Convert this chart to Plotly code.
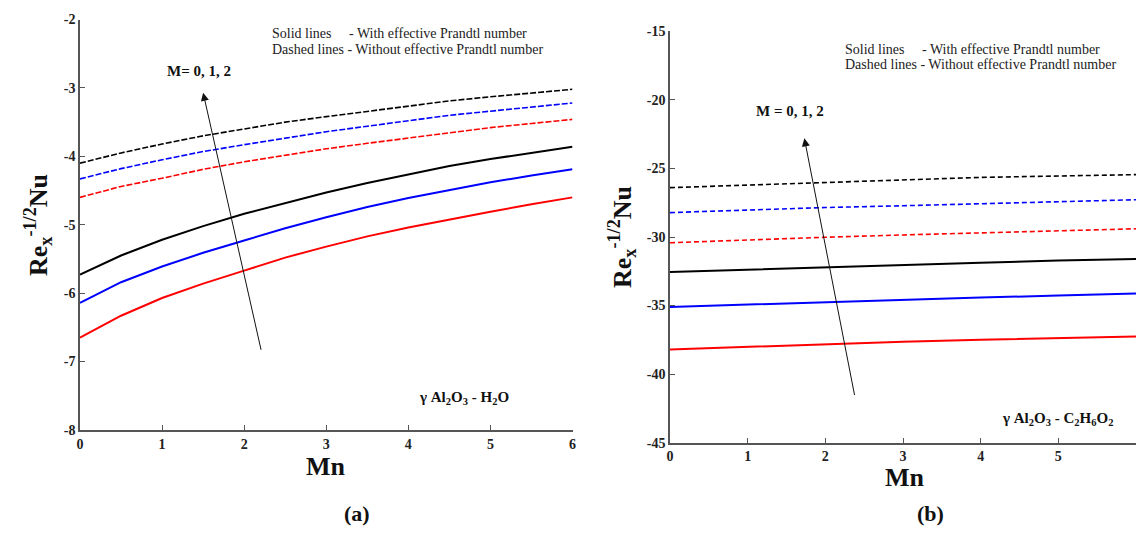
import plotly.graph_objects as go

# ---------------- data ----------------
mn_a = [0, 0.5, 1, 1.5, 2, 2.5, 3, 3.5, 4, 4.5, 5, 5.5, 6]
a_solid_m0 = [-5.73, -5.45, -5.22, -5.02, -4.84, -4.68, -4.53, -4.39, -4.26, -4.14, -4.04, -3.95, -3.86]
a_solid_m1 = [-6.14, -5.84, -5.61, -5.41, -5.23, -5.05, -4.89, -4.74, -4.61, -4.49, -4.38, -4.28, -4.19]
a_solid_m2 = [-6.65, -6.33, -6.07, -5.86, -5.67, -5.48, -5.32, -5.17, -5.04, -4.92, -4.81, -4.70, -4.60]
a_dash_m0 = [-4.10, -3.95, -3.82, -3.70, -3.60, -3.50, -3.42, -3.34, -3.26, -3.19, -3.13, -3.07, -3.02]
a_dash_m1 = [-4.33, -4.18, -4.05, -3.93, -3.83, -3.73, -3.64, -3.56, -3.48, -3.40, -3.34, -3.28, -3.22]
a_dash_m2 = [-4.60, -4.44, -4.32, -4.19, -4.08, -3.98, -3.89, -3.81, -3.73, -3.65, -3.58, -3.52, -3.46]

mn_b = [0, 1, 2, 3, 4, 5, 6]
b_dash_m0 = [-26.40, -26.20, -26.03, -25.85, -25.65, -25.55, -25.45]
b_dash_m1 = [-28.22, -28.02, -27.85, -27.72, -27.58, -27.42, -27.28]
b_dash_m2 = [-30.42, -30.20, -30.02, -29.85, -29.70, -29.55, -29.40]
b_solid_m0 = [-32.55, -32.37, -32.20, -32.03, -31.87, -31.72, -31.60]
b_solid_m1 = [-35.10, -34.92, -34.75, -34.58, -34.42, -34.27, -34.12]
b_solid_m2 = [-38.20, -38.00, -37.82, -37.65, -37.50, -37.37, -37.26]

x_ticks = [0, 1, 2, 3, 4, 5, 6]
a_yticks = [-8, -7, -6, -5, -4, -3, -2]
b_yticks = [-45, -40, -35, -30, -25, -20, -15]

FONT = "Liberation Serif"
OFF = 8              # default page body margin
W, H = 1144 - 2 * OFF, 535 - 2 * OFF

fig = go.Figure()

def add(x, y, color, dash, xa, ya):
    fig.add_trace(go.Scatter(
        x=x, y=y, mode="lines", xaxis=xa, yaxis=ya, showlegend=False,
        line=dict(color=color, width=2 if dash == "solid" else 1.6, dash=dash),
        hoverinfo="skip"))

for ys, c in [(a_solid_m0, "#000000"), (a_solid_m1, "#0000ff"), (a_solid_m2, "#ff0000")]:
    add(mn_a, ys, c, "solid", "x", "y")
for ys, c in [(a_dash_m0, "#000000"), (a_dash_m1, "#0000ff"), (a_dash_m2, "#ff0000")]:
    add(mn_a, ys, c, "6px,2px", "x", "y")
for ys, c in [(b_solid_m0, "#000000"), (b_solid_m1, "#0000ff"), (b_solid_m2, "#ff0000")]:
    add(mn_b, ys, c, "solid", "x2", "y2")
for ys, c in [(b_dash_m0, "#000000"), (b_dash_m1, "#0000ff"), (b_dash_m2, "#ff0000")]:
    add(mn_b, ys, c, "5px,3px", "x2", "y2")

axis_common = dict(
    showline=True, linecolor="#555555", linewidth=1.5, showgrid=False, zeroline=False,
    ticks="inside", ticklen=5, tickcolor="#555555", tickwidth=1, automargin=False,
    tickfont=dict(family=FONT, size=14, color="#222222", weight="bold"),
    mirror=False, fixedrange=True,
)

def px_x(p):
    return (p - OFF) / W

def px_y(p):
    return 1 - (p - OFF) / H

fig.update_layout(
    width=W, height=H, autosize=False,
    margin=dict(l=0, r=0, t=0, b=0, pad=0, autoexpand=False),
    paper_bgcolor="white", plot_bgcolor="white",
    font=dict(family=FONT, color="#111111"),
    xaxis=dict(domain=[px_x(80), px_x(572.5)], range=[0, 6], tickvals=x_ticks,
               ticktext=[str(t) for t in x_ticks], anchor="y", **axis_common),
    yaxis=dict(domain=[px_y(430), px_y(19.5)], range=[-8, -2], tickvals=a_yticks,
               ticktext=[str(t) for t in a_yticks], anchor="x", **axis_common),
    xaxis2=dict(domain=[px_x(670), min(1.0, px_x(1141))], range=[0, 6], tickvals=x_ticks,
                ticktext=[str(t) for t in x_ticks], anchor="y2", **axis_common),
    yaxis2=dict(domain=[px_y(442.6), px_y(31.4)], range=[-45, -15], tickvals=b_yticks,
                ticktext=[str(t) for t in b_yticks], anchor="x2", **axis_common),
)

ann = []
NB = "\u00a0"
leg1 = "Solid lines" + NB * 5 + "- With effective Prandtl number"
leg2 = "Dashed lines - Without effective Prandtl number"
for xr, yr, x0, y1, y2 in [("x", "y", 2.31, -2.2, -2.44), ("x2", "y2", 2.23, -16.3, -17.44)]:
    ann.append(dict(xref=xr, yref=yr, x=x0, y=y1, text=leg1, showarrow=False, xanchor="left",
                    yanchor="middle", font=dict(family=FONT, size=14, color="#222222")))
    ann.append(dict(xref=xr, yref=yr, x=x0, y=y2, text=leg2, showarrow=False, xanchor="left",
                    yanchor="middle", font=dict(family=FONT, size=14, color="#222222")))

C = dict(xanchor="center", yanchor="middle", showarrow=False)

ann.append(dict(xref="x", yref="y", x=1.45, y=-2.76, text="<b>M= 0, 1, 2</b>",
                font=dict(family=FONT, size=15, color="#111111"), **C))
ann.append(dict(xref="x2", yref="y2", x=1.55, y=-20.8, text="<b>M = 0, 1, 2</b>",
                font=dict(family=FONT, size=15, color="#111111"), **C))

ann.append(dict(xref="x", yref="y", x=1.5, y=-3.07, axref="x", ayref="y", ax=2.21, ay=-6.85,
                text="", showarrow=True, arrowhead=2, arrowsize=1.6, arrowwidth=1, arrowcolor="#111111"))
ann.append(dict(xref="x2", yref="y2", x=1.73, y=-22.8, axref="x2", ayref="y2", ax=2.38, ay=-41.64,
                text="", showarrow=True, arrowhead=2, arrowsize=1.6, arrowwidth=1, arrowcolor="#111111"))

ann.append(dict(xref="x", yref="y", x=4.68, y=-7.53,
                text="<b>\u03b3 Al<sub>2</sub>O<sub>3</sub> - H<sub>2</sub>O</b>",
                font=dict(family=FONT, size=15, color="#111111"), **C))
ann.append(dict(xref="x2", yref="y2", x=4.99, y=-43.3,
                text="<b>\u03b3 Al<sub>2</sub>O<sub>3</sub> - C<sub>2</sub>H<sub>6</sub>O<sub>2</sub></b>",
                font=dict(family=FONT, size=15, color="#111111"), **C))

ann.append(dict(xref="paper", yref="paper", x=px_x(326), y=px_y(466), text="<b>Mn</b>",
                font=dict(family=FONT, size=26, color="#111111"), **C))
ann.append(dict(xref="paper", yref="paper", x=px_x(905), y=px_y(477), text="<b>Mn</b>",
                font=dict(family=FONT, size=26, color="#111111"), **C))
ytitle = "<b>Re<sub>x</sub><sup>-1/2</sup>Nu</b>"
ann.append(dict(xref="paper", yref="paper", x=px_x(38), y=px_y(225), text=ytitle,
                textangle=-90, font=dict(family=FONT, size=26, color="#111111"), **C))
ann.append(dict(xref="paper", yref="paper", x=px_x(622), y=px_y(237), text=ytitle,
                textangle=-90, font=dict(family=FONT, size=26, color="#111111"), **C))

ann.append(dict(xref="paper", yref="paper", x=px_x(357), y=px_y(513), text="<b>(a)</b>",
                font=dict(family=FONT, size=22, color="#111111"), **C))
ann.append(dict(xref="paper", yref="paper", x=px_x(930), y=px_y(513), text="<b>(b)</b>",
                font=dict(family=FONT, size=22, color="#111111"), **C))

fig.update_layout(annotations=ann)
fig.write_html("out.html")
